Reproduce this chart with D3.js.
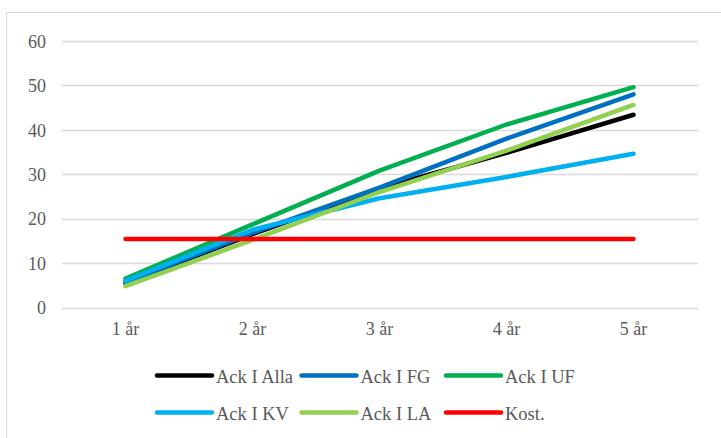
<!DOCTYPE html>
<html><head><meta charset="utf-8">
<script src="https://cdn.jsdelivr.net/npm/d3@7"></script>
<style>html,body{margin:0;padding:0;background:#fff;}svg{display:block;}</style>
</head><body>
<script>
const categories = ["1 år","2 år","3 år","4 år","5 år"];
const yTicks = [0,10,20,30,40,50,60];
const seriesNames = ["Ack I Alla","Ack I FG","Ack I UF","Ack I KV","Ack I LA","Kost."];
const seriesColors = ["#000000","#0070C0","#00B050","#00B0F0","#92D050","#FF0000"];
const ackAlla = [5.5, 16.5, 26.8, 34.8, 43.4];
const ackFG   = [5.7, 16.8, 27.0, 38.0, 48.0];
const ackUF   = [6.5, 18.7, 30.8, 41.2, 49.6];
const ackKV   = [6.0, 17.5, 24.6, 29.4, 34.6];
const ackLA   = [4.8, 15.2, 26.0, 35.3, 45.6];
const kost    = [15.4, 15.4, 15.4, 15.4, 15.4];
const seriesValues = [ackAlla, ackFG, ackUF, ackKV, ackLA, kost];

const W = 721, H = 438;
const svg = d3.select("body").append("svg").attr("width", W).attr("height", H);
const font = "'Liberation Serif', 'Times New Roman', serif";
const textColor = "#595959";

svg.append("rect").attr("x",6.5).attr("y",12.5).attr("width",900).attr("height",900)
  .attr("fill","none").attr("stroke","#d9d9d9").attr("stroke-width",1);

const x = d3.scaleBand().domain(categories).range([62, 697]).padding(0);
const y = d3.scaleLinear().domain([0,60]).range([307.5, 41]);

// gridlines
svg.append("g").selectAll("line").data(yTicks).join("line")
  .attr("x1",62).attr("x2",698)
  .attr("y1",d=>Math.round(y(d))+0.5).attr("y2",d=>Math.round(y(d))+0.5)
  .attr("stroke","#d9d9d9").attr("stroke-width",1.3);

// y axis labels
const yAxis = d3.axisLeft(y).tickValues(yTicks).tickSize(0).tickPadding(0);
const gy = svg.append("g").attr("transform","translate(46,0)").call(yAxis);
gy.select(".domain").remove();
gy.selectAll("text").attr("font-family",font).attr("font-size","18px").attr("fill",textColor).attr("dy","0.35em");

// x axis labels
const xAxis = d3.axisBottom(x).tickSize(0).tickPadding(0);
const gx = svg.append("g").attr("transform","translate(0,322)").call(xAxis);
gx.select(".domain").remove();
gx.selectAll("text").attr("font-family",font).attr("font-size","18px").attr("fill",textColor).attr("dy","0.71em");

// lines
const line = d3.line().x((d,i)=>x(categories[i]) + x.bandwidth()/2).y(d=>y(d));
svg.append("g").selectAll("path").data(seriesValues).join("path")
  .attr("d", d=>line(d))
  .attr("fill","none")
  .attr("stroke",(d,i)=>seriesColors[i])
  .attr("stroke-width",4.5)
  .attr("stroke-linecap","round")
  .attr("stroke-linejoin","round");

// legend
const leg = svg.append("g");
seriesNames.forEach((name,i)=>{
  const col = i%3, row = Math.floor(i/3);
  const lx = 157 + col*144.5, ly = 375.5 + row*37;
  leg.append("line").attr("x1",lx).attr("x2",lx+55).attr("y1",ly).attr("y2",ly)
    .attr("stroke",seriesColors[i]).attr("stroke-width",4.5).attr("stroke-linecap","round");
  leg.append("text").attr("x",lx+59).attr("y",ly+7.5).text(name)
    .attr("font-family",font).attr("font-size","18.5px").attr("fill",textColor);
});
</script>
</body></html>
